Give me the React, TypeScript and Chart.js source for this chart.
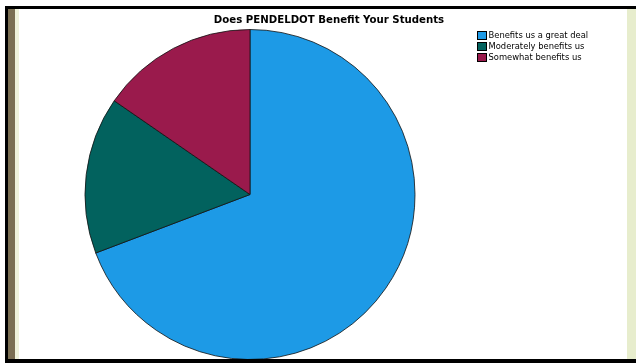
import React, { useEffect, useRef } from "react";
import { Chart, registerables } from "chart.js";

Chart.register(...registerables);

const chartTitle = "Does PENDELDOT Benefit Your Students";
const categories = ["Benefits us a great deal", "Moderately benefits us", "Somewhat benefits us"];
const counts = [9, 2, 2];
const sliceColors = ["#1d9ae6", "#02625e", "#9a1a4c"];

const titleLegendPlugin = {
  id: "titleLegend",
  afterDraw(chart: any) {
    const ctx = chart.ctx as CanvasRenderingContext2D;
    ctx.save();
    // title
    ctx.fillStyle = "#000";
    ctx.font = "bold 10.2px 'DejaVu Sans', sans-serif";
    ctx.textAlign = "center";
    ctx.textBaseline = "middle";
    ctx.fillText(chartTitle, 310, 11.5);
    // legend
    const labels: string[] = chart.data.labels;
    const colors: string[] = chart.data.datasets[0].backgroundColor;
    ctx.font = "9.3px 'DejaVu Sans Condensed', 'DejaVu Sans', sans-serif";
    ctx.textAlign = "left";
    labels.forEach((lab, i) => {
      const cy = 26.5 + i * 11;
      ctx.fillStyle = colors[i];
      ctx.fillRect(458.5, cy - 4, 9, 8);
      ctx.strokeStyle = "#000";
      ctx.lineWidth = 1;
      ctx.strokeRect(458.5, cy - 4, 9, 8);
      ctx.fillStyle = "#000";
      ctx.fillText(lab, 469.5, cy + 0.5);
    });
    ctx.restore();
  },
};

export default function App() {
  const ref = useRef<HTMLCanvasElement | null>(null);
  useEffect(() => {
    document.body.style.margin = "0";
    const chart = new Chart(ref.current!, {
      type: "pie",
      data: {
        labels: categories,
        datasets: [
          {
            data: counts,
            backgroundColor: sliceColors,
            borderColor: "#111",
            borderWidth: 0.8,
            radius: 165,
          },
        ],
      },
      options: {
        responsive: false,
        animation: false,
        layout: { padding: { left: 0, right: 146, top: 21, bottom: 0 } },
        plugins: {
          legend: { display: false },
          title: { display: false },
          tooltip: { enabled: false },
        },
      },
      plugins: [titleLegendPlugin],
    });
    return () => chart.destroy();
  }, []);

  const box = (l: number, t: number, w: number, h: number, c: string): React.CSSProperties => ({
    position: "absolute",
    left: l,
    top: t,
    width: w,
    height: h,
    background: c,
  });

  return (
    <div style={{ position: "relative", width: 636, height: 363, background: "#fff", overflow: "hidden" }}>
      <div style={box(8, 9, 7, 350, "#7a6e52")} />
      <div style={box(15, 9, 4, 350, "#eef1da")} />
      <div style={box(627, 9, 9, 350, "#e7edcd")} />
      <canvas ref={ref} width={608} height={350} style={{ position: "absolute", left: 19, top: 9, display: "block" }} />
      <div style={box(5, 6, 631, 3, "#000")} />
      <div style={box(5, 6, 3, 357, "#000")} />
      <div style={box(5, 359, 631, 4, "#000")} />
    </div>
  );
}
